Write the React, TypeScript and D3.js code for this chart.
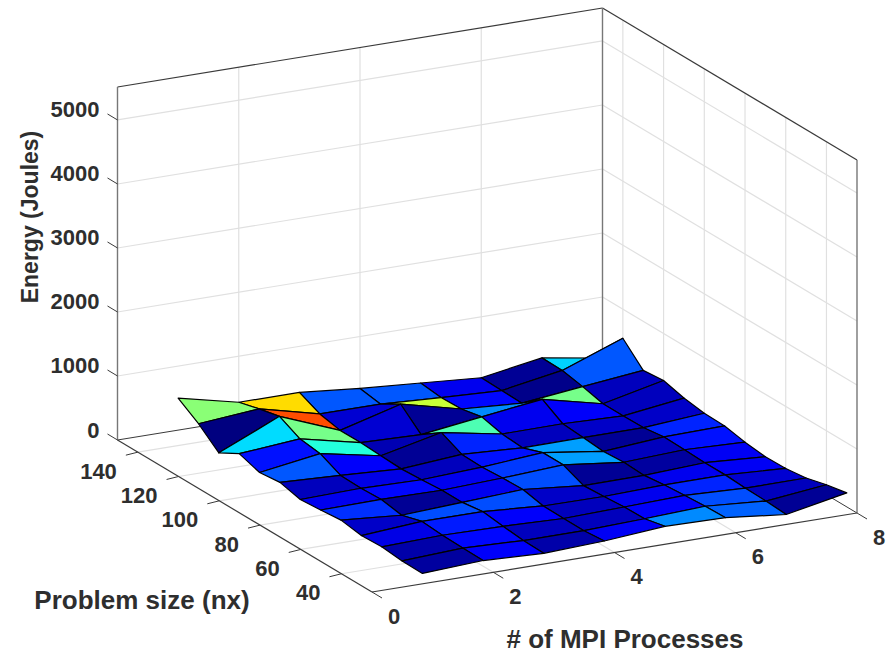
import React, { useEffect, useRef } from 'react';
import * as d3 from 'd3';

const processes = [1, 2, 3, 4, 5, 6, 7, 8];
const problemSizes = [30, 40, 50, 60, 70, 80, 90, 100, 110, 120, 130, 140, 150];

// one row per problem size, one value per process count
const energy = [
  [41, 88, 46, 85, 160, 140, 36, 219],
  [46, 93, 56, 56, 88, 129, 56, 156],
  [77, 103, 88, 56, 82, 108, 67, 72],
  [62, 129, 129, 62, 56, 82, 85, 31],
  [114, 36, 82, 129, 36, 41, 85, 25],
  [82, 93, 82, 119, 171, 56, 98, 62],
  [56, 77, 56, 98, 171, 36, 108, 125],
  [134, 88, 36, 108, 56, 62, 62, 133],
  [98, 238, 51, 259, 82, 88, 56, 181],
  [202, 280, 67, 36, 160, 280, 56, 266],
  [25, 441, 67, 322, 93, 30, 134, 234],
  [290, 368, 134, 134, 82, 36, 197, 545],
  [500, 281, 281, 188, 119, 47, 203, 47],
];

const xTicks = [0, 2, 4, 6, 8];
const yTicks = [40, 60, 80, 100, 120, 140];
const zTicks = [0, 1000, 2000, 3000, 4000, 5000];

const jetStops = ['#000080', '#0000ff', '#0080ff', '#00ffff', '#80ff80', '#ffff00', '#ff8000', '#ff0000', '#800000'];

const axisColor = '#3a3a3a';
const gridColor = '#e0e0e0';
const textColor = '#2e2e2e';
const fontFamily = '"Liberation Sans", Arial, sans-serif';

// the box is drawn in parallel projection, so three scales give the screen offsets
const xScale = d3.scaleLinear().domain([0, 8]).range([0, 1]);
const yScale = d3.scaleLinear().domain([25, 150]).range([0, 1]);
const zScale = d3.scaleLinear().domain([0, 5515]).range([0, 1]);

const project = (x: number, y: number, z: number): [number, number] => {
  const u = xScale(x);
  const v = yScale(y);
  const w = zScale(z);
  return [372 + 485 * u - 254.5 * v, 592 - 79 * u - 152 * v - 353 * w];
};

export default function App() {
  const ref = useRef<SVGSVGElement>(null);

  useEffect(() => {
    const svg = d3.select(ref.current);
    svg.selectAll('*').remove();

    const path = d3.line();
    const zMax = 5515;
    const xEnd = 8;
    const yEnd = 150;
    const yStart = 25;
    const xStart = 0;

    const drawLine = (a: [number, number], b: [number, number], color: string, width: number) => {
      svg.append('path')
        .attr('d', path([a, b]))
        .attr('stroke', color)
        .attr('stroke-width', width)
        .attr('fill', 'none');
    };

    //grid on floor and back walls
    xTicks.filter(t => t > xStart && t < xEnd).forEach(t => {
      drawLine(project(t, yStart, 0), project(t, yEnd, 0), gridColor, 1.2);
      drawLine(project(t, yEnd, 0), project(t, yEnd, zMax), gridColor, 1.2);
    });
    yTicks.forEach(t => {
      drawLine(project(xStart, t, 0), project(xEnd, t, 0), gridColor, 1.2);
      drawLine(project(xEnd, t, 0), project(xEnd, t, zMax), gridColor, 1.2);
    });
    zTicks.filter(t => t > 0).forEach(t => {
      drawLine(project(xStart, yEnd, t), project(xEnd, yEnd, t), gridColor, 1.2);
      drawLine(project(xEnd, yEnd, t), project(xEnd, yStart, t), gridColor, 1.2);
    });

    //box outline
    drawLine(project(xStart, yEnd, 0), project(xEnd, yEnd, 0), axisColor, 1);
    drawLine(project(xEnd, yEnd, 0), project(xEnd, yStart, 0), axisColor, 1);
    drawLine(project(xStart, yEnd, zMax), project(xEnd, yEnd, zMax), axisColor, 1.2);
    drawLine(project(xEnd, yEnd, zMax), project(xEnd, yStart, zMax), axisColor, 1.2);
    drawLine(project(xEnd, yEnd, 0), project(xEnd, yEnd, zMax), '#777777', 1.4);
    drawLine(project(xEnd, yStart, 0), project(xEnd, yStart, zMax), '#777777', 1.4);
    drawLine(project(xStart, yEnd, 0), project(xStart, yEnd, zMax), '#777777', 1.4);
    drawLine(project(xStart, yStart, 0), project(xEnd, yStart, 0), axisColor, 1.2);
    drawLine(project(xStart, yStart, 0), project(xStart, yEnd, 0), axisColor, 1.2);

    //ticks
    xTicks.forEach(t => {
      const a = project(t, yStart, 0);
      drawLine(a, [a[0] + 10, a[1] + 6], axisColor, 1);
    });
    yTicks.forEach(t => {
      const a = project(xStart, t, 0);
      drawLine(a, [a[0] - 12, a[1] + 3], axisColor, 1);
    });
    zTicks.forEach(t => {
      const a = project(xStart, yEnd, t);
      drawLine(a, [a[0] - 10, a[1] - 6], axisColor, 1);
    });

    //surface, far cells first; each cell takes its colour from its lowest corner
    const extent = d3.extent(energy.flat()) as [number, number];
    const color = d3.scaleLinear<string>()
      .domain(jetStops.map((_, i) => extent[0] + (extent[1] - extent[0]) * i / (jetStops.length - 1)))
      .range(jetStops)
      .interpolate(d3.interpolateRgb);

    const surface = svg.append('g');
    for (let j = problemSizes.length - 2; j >= 0; j--) {
      for (let i = processes.length - 2; i >= 0; i--) {
        const corners = [
          project(processes[i], problemSizes[j], energy[j][i]),
          project(processes[i + 1], problemSizes[j], energy[j][i + 1]),
          project(processes[i + 1], problemSizes[j + 1], energy[j + 1][i + 1]),
          project(processes[i], problemSizes[j + 1], energy[j + 1][i]),
        ];
        surface.append('path')
          .attr('d', path(corners) + 'Z')
          .attr('fill', color(energy[j][i]))
          .attr('stroke', '#000000')
          .attr('stroke-width', 1.2)
          .attr('stroke-linejoin', 'round');
      }
    }

    const label = (s: string, x: number, y: number, anchor: string, size = 22) =>
      svg.append('text')
        .attr('x', x)
        .attr('y', y)
        .attr('text-anchor', anchor)
        .attr('dominant-baseline', 'central')
        .attr('font-family', fontFamily)
        .attr('font-weight', 'bold')
        .attr('font-size', size)
        .attr('fill', textColor)
        .text(s);

    xTicks.forEach(t => {
      const a = project(t, yStart, 0);
      label(String(t), a[0] + 22, a[1] + 24, 'middle');
    });
    yTicks.forEach(t => {
      const a = project(xStart, t, 0);
      label(String(t), a[0] - 21, a[1] + 19, 'end');
    });
    zTicks.forEach(t => {
      const a = project(xStart, yEnd, t);
      label(String(t), a[0] - 18, a[1] - 10, 'end');
    });

    label('Problem size (nx)', 142, 600, 'middle', 26);
    label('# of MPI Processes', 625, 639, 'middle', 26);
    label('Energy (Joules)', 0, 0, 'middle', 23)
      .attr('transform', 'translate(30,217) rotate(-90)');
  }, []);

  return (
    <svg
      ref={ref}
      width={894}
      height={655}
      style={{ position: 'absolute', left: 0, top: 0, background: '#ffffff' }}
    />
  );
}
